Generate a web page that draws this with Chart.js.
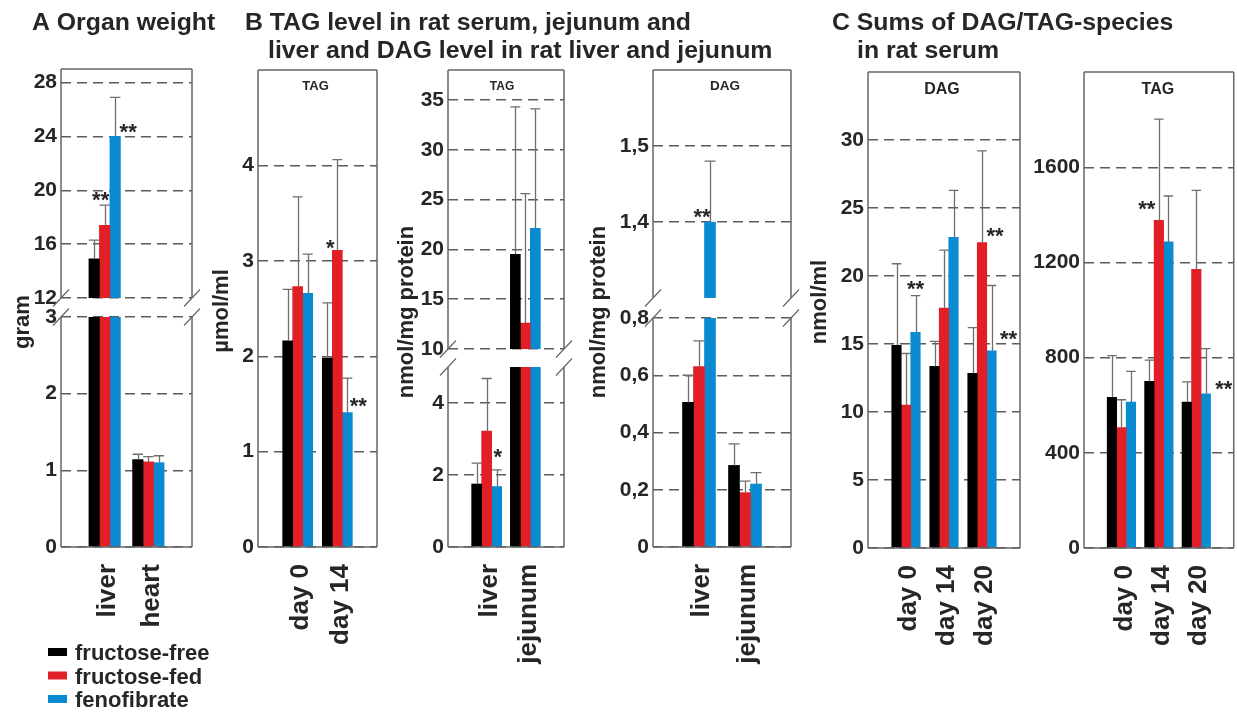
<!DOCTYPE html>
<html>
<head>
<meta charset="utf-8">
<script src="https://cdn.jsdelivr.net/npm/chart.js@4.4.1/dist/chart.umd.min.js"></script>
<style>
  html, body { margin: 0; padding: 0; background: #fff; }
  #fig { position: relative; width: 1237px; height: 712px; overflow: hidden; }
  #fig canvas { position: absolute; left: 0; top: 0; }
</style>
</head>
<body>
<div id="fig"></div>
<script>
/* ---------- data (rows = series: fructose-free, fructose-fed, fenofibrate) ---------- */
const seriesNames = ['fructose-free', 'fructose-fed', 'fenofibrate'];
const seriesColors = ['#000000', '#e21f26', '#0a8ad0'];

// A organ weight, gram
const organs = ['liver', 'heart'];
const organMean = [[14.9, 1.14], [17.4, 1.11], [24.0, 1.10]];
const organSD = [[1.4, 0.07], [1.5, 0.07], [2.9, 0.09]];
const organTicksUp = [12, 16, 20, 24, 28];
const organTicksLow = [0, 1, 2, 3];

// B serum TAG, µmol/ml
const serumDays = ['day 0', 'day 14'];
const serumTagMean = [[2.16, 1.98], [2.73, 3.11], [2.66, 1.41]];
const serumTagSD = [[0.54, 0.58], [0.94, 0.95], [0.41, 0.36]];
const serumTagTicks = [0, 1, 2, 3, 4];

// B tissue TAG, nmol/mg protein
const tissues = ['liver', 'jejunum'];
const tissueTagMean = [[1.75, 19.5], [3.22, 12.6], [1.68, 22.1]];
const tissueTagSD = [[0.58, 14.8], [1.46, 13.0], [0.46, 12.0]];
const tissueTagTicksUp = [10, 15, 20, 25, 30, 35];
const tissueTagTicksLow = [0, 2, 4];

// B tissue DAG, nmol/mg protein
const tissueDagMean = [[0.505, 0.285], [0.63, 0.19], [1.40, 0.22]];
const tissueDagSD = [[0.095, 0.075], [0.09, 0.04], [0.08, 0.04]];
const tissueDagTicksUp = [1.4, 1.5];
const tissueDagTicksLow = [0, 0.2, 0.4, 0.6, 0.8];

// C serum DAG / TAG sums, nmol/ml
const sumDays = ['day 0', 'day 14', 'day 20'];
const sumDagMean = [[14.9, 13.35, 12.85], [10.5, 17.65, 22.45], [15.85, 22.85, 14.5]];
const sumDagSD = [[6.0, 1.85, 3.35], [3.8, 4.25, 6.75], [2.7, 3.45, 4.8]];
const sumDagTicks = [0, 5, 10, 15, 20, 25, 30];
const sumTagMean = [[633, 700, 613], [506, 1377, 1171], [613, 1286, 648]];
const sumTagSD = [[175, 89, 85], [117, 425, 332], [129, 193, 190]];
const sumTagTicks = [0, 400, 800, 1200, 1600];

/* ---------- look ---------- */
const W = 1237, H = 712;
const FONT = "'Liberation Sans', Arial, Helvetica, sans-serif";
const INK = '#262626', GRID = '#5c5c5c', FRAME = '#666666', WHISKER = '#6e6e6e';
Chart.defaults.font.family = FONT;
Chart.defaults.color = INK;

const pad = a => [null, ...a, null];
const padLabels = a => ['', ...a, ''];

function makeDecor(cfg) {
  const d = cfg.decor || {};
  return {
    id: 'decor',
    afterDatasetsDraw(chart) {
      const { ctx, chartArea: a } = chart;
      const y = chart.scales.y;
      ctx.save();
      ctx.beginPath();
      ctx.rect(a.left, a.top, a.right - a.left, a.bottom - a.top);
      ctx.clip();
      ctx.strokeStyle = WHISKER;
      ctx.lineWidth = 1.3;
      chart.data.datasets.forEach((ds, i) => {
        chart.getDatasetMeta(i).data.forEach((bar, j) => {
          const v = ds.data[j];
          if (v == null) return;
          const e = y.getPixelForValue(v + ds.sd[j]);
          const x = Math.round(bar.x) + 0.5, half = bar.width / 2;
          ctx.beginPath();
          ctx.moveTo(x, bar.y); ctx.lineTo(x, e);
          ctx.moveTo(bar.x - half, e); ctx.lineTo(bar.x + half, e);
          ctx.stroke();
        });
      });
      ctx.restore();
    },
    afterDraw(chart) {
      const { ctx, chartArea: a } = chart;
      const y = chart.scales.y;
      ctx.save();
      // frame
      const sides = d.sides || ['top', 'left', 'right', 'bottom'];
      ctx.strokeStyle = FRAME;
      ctx.lineWidth = 1.5;
      ctx.beginPath();
      if (sides.includes('top')) { ctx.moveTo(a.left, a.top); ctx.lineTo(a.right, a.top); }
      if (sides.includes('bottom')) { ctx.moveTo(a.left, a.bottom); ctx.lineTo(a.right, a.bottom); }
      if (sides.includes('left')) { ctx.moveTo(a.left, a.top); ctx.lineTo(a.left, a.bottom); }
      if (sides.includes('right')) { ctx.moveTo(a.right, a.top); ctx.lineTo(a.right, a.bottom); }
      ctx.stroke();
      // axis break marks
      if (d.breakAt) {
        const by = d.breakAt === 'top' ? a.top : a.bottom;
        ctx.lineWidth = 1.2;
        ctx.beginPath();
        [a.left, a.right].forEach(bx => { ctx.moveTo(bx - 8, by + 8.5); ctx.lineTo(bx + 8, by - 8.5); });
        ctx.stroke();
      }
      ctx.fillStyle = INK;
      // small label inside the box
      if (d.label) {
        ctx.font = `bold ${d.labelSize}px ${FONT}`;
        ctx.textAlign = 'center';
        ctx.textBaseline = 'middle';
        ctx.fillText(d.label, (a.left + a.right) / 2 + (d.labelDx || 0), d.labelY);
      }
      // unit title
      if (d.yTitle) {
        ctx.save();
        ctx.translate(d.yTitle.x, d.yTitle.y);
        ctx.rotate(-Math.PI / 2);
        ctx.font = `bold 22px ${FONT}`;
        ctx.textAlign = 'center';
        ctx.textBaseline = 'middle';
        ctx.fillText(d.yTitle.text, 0, 0);
        ctx.restore();
      }
      // significance stars
      (d.stars || []).forEach(s => {
        const ds = chart.data.datasets[s.ds];
        const bar = chart.getDatasetMeta(s.ds).data[s.cat + 1];
        const v = ds.data[s.cat + 1] + (s.at === 'err' ? ds.sd[s.cat + 1] : 0);
        ctx.font = `bold 22px ${FONT}`;
        ctx.textAlign = 'center';
        ctx.textBaseline = 'alphabetic';
        ctx.fillText(s.text, bar.x + s.dx, y.getPixelForValue(v) + s.dy + 12.5);
      });
      // figure titles and legend
      if (d.extra) {
        ctx.font = `bold 24.8px ${FONT}`;
        ctx.textAlign = 'left';
        ctx.textBaseline = 'alphabetic';
        ctx.fillText('A Organ weight', 32, 30);
        ctx.fillText('B TAG level in rat serum, jejunum and', 245, 30);
        ctx.fillText('liver and DAG level in rat liver and jejunum', 268, 58);
        ctx.fillText('C Sums of DAG/TAG-species', 832, 30);
        ctx.fillText('in rat serum', 857, 58);
        ctx.font = `bold 22px ${FONT}`;
        seriesNames.forEach((name, i) => {
          const cy = 652 + i * 23.5;
          ctx.fillStyle = seriesColors[i];
          ctx.fillRect(48, cy - 4, 19, 8);
          ctx.fillStyle = INK;
          ctx.fillText(name, 75, cy + 8);
        });
      }
      ctx.restore();
    }
  };
}

function makeChart(cfg) {
  const canvas = document.createElement('canvas');
  canvas.width = W;
  canvas.height = H;
  document.getElementById('fig').appendChild(canvas);
  const showX = !!cfg.showX;
  const xH = showX ? 160 : 0, yW = 50;
  const [l, t, r, b] = cfg.area;
  return new Chart(canvas, {
    type: 'bar',
    data: {
      labels: padLabels(cfg.labels),
      datasets: seriesNames.map((name, i) => ({
        label: name,
        data: pad(cfg.mean[i]),
        sd: pad(cfg.sd[i]),
        backgroundColor: seriesColors[i],
        borderWidth: 0,
        barThickness: cfg.bar,
        clip: 0
      }))
    },
    options: {
      responsive: false,
      animation: false,
      events: [],
      layout: { padding: { left: l - yW, top: t, right: W - r, bottom: Math.max(H - b - xH, 0) } },
      scales: {
        x: {
          display: showX,
          offset: false,
          grid: { display: false },
          border: { display: false },
          ticks: {
            autoSkip: false, minRotation: 90, maxRotation: 90, padding: 9, labelOffset: 3,
            font: { size: 26, weight: 'bold' }, color: INK
          },
          afterBuildTicks: s => { s.ticks = s.ticks.filter(tk => s.getLabels()[tk.value] !== ''); },
          afterFit: s => { s.height = xH; }
        },
        y: {
          min: cfg.min,
          max: cfg.max,
          grid: { color: GRID, lineWidth: 1.4, drawTicks: false },
          border: { display: false, dash: [10, 6] },
          ticks: {
            padding: 4, font: { size: 21, weight: 'bold' }, color: INK,
            callback: v => String(v).replace('.', ',')
          },
          afterBuildTicks: s => { s.ticks = cfg.ticks.map(v => ({ value: v })); },
          afterFit: s => { s.width = yW; }
        }
      },
      plugins: { legend: { display: false }, tooltip: { enabled: false } }
    },
    plugins: [makeDecor(cfg)]
  });
}

const upper = ['top', 'left', 'right'];
const lower = ['left', 'right', 'bottom'];

// A organ weight (broken axis)
makeChart({
  area: [61, 69, 192, 298], min: 12, max: 29, ticks: organTicksUp,
  labels: organs, mean: organMean, sd: organSD, bar: 10.5,
  decor: {
    sides: upper, breakAt: 'bottom',
    stars: [
      { cat: 0, ds: 1, at: 'err', text: '**', dx: -4, dy: -11 },
      { cat: 0, ds: 2, at: 'bar', text: '**', dx: 13, dy: -10 }
    ]
  }
});
makeChart({
  area: [61, 317, 192, 547], min: 0, max: 3, ticks: organTicksLow, showX: true,
  labels: organs, mean: organMean, sd: organSD, bar: 10.5,
  decor: { sides: lower, breakAt: 'top', yTitle: { text: 'gram', x: 23, y: 322 }, extra: true }
});

// B serum TAG
makeChart({
  area: [258, 70, 377, 547], min: 0, max: 5, ticks: serumTagTicks, showX: true,
  labels: serumDays, mean: serumTagMean, sd: serumTagSD, bar: 10,
  decor: {
    label: 'TAG', labelSize: 13, labelY: 86, labelDx: -2,
    yTitle: { text: 'µmol/ml', x: 222, y: 311 },
    stars: [
      { cat: 1, ds: 1, at: 'bar', text: '*', dx: -7, dy: -8 },
      { cat: 1, ds: 2, at: 'bar', text: '**', dx: 11, dy: -12 }
    ]
  }
});

// B tissue TAG (broken axis)
makeChart({
  area: [448, 70, 564, 349], min: 10, max: 38, ticks: tissueTagTicksUp,
  labels: tissues, mean: tissueTagMean, sd: tissueTagSD, bar: 10,
  decor: { sides: upper, breakAt: 'bottom', label: 'TAG', labelSize: 12, labelY: 87, labelDx: -4 }
});
makeChart({
  area: [448, 367, 564, 547], min: 0, max: 5, ticks: tissueTagTicksLow, showX: true,
  labels: tissues, mean: tissueTagMean, sd: tissueTagSD, bar: 10,
  decor: {
    sides: lower, breakAt: 'top',
    yTitle: { text: 'nmol/mg protein', x: 407, y: 312 },
    stars: [{ cat: 0, ds: 2, at: 'err', text: '*', dx: 1, dy: -18 }]
  }
});

// B tissue DAG (broken axis)
makeChart({
  area: [653, 70, 791, 298], min: 1.3, max: 1.6, ticks: tissueDagTicksUp,
  labels: tissues, mean: tissueDagMean, sd: tissueDagSD, bar: 11,
  decor: {
    sides: upper, breakAt: 'bottom', label: 'DAG', labelSize: 13.5, labelY: 86, labelDx: 3,
    stars: [{ cat: 0, ds: 2, at: 'bar', text: '**', dx: -8, dy: -11 }]
  }
});
makeChart({
  area: [653, 318, 791, 547], min: 0, max: 0.8, ticks: tissueDagTicksLow, showX: true,
  labels: tissues, mean: tissueDagMean, sd: tissueDagSD, bar: 11,
  decor: { sides: lower, breakAt: 'top', yTitle: { text: 'nmol/mg protein', x: 599, y: 312 } }
});

// C serum DAG
makeChart({
  area: [868, 72, 1020, 548], min: 0, max: 35, ticks: sumDagTicks, showX: true,
  labels: sumDays, mean: sumDagMean, sd: sumDagSD, bar: 9.5,
  decor: {
    label: 'DAG', labelSize: 16, labelY: 90, labelDx: -2,
    yTitle: { text: 'nmol/ml', x: 820, y: 302 },
    stars: [
      { cat: 0, ds: 2, at: 'err', text: '**', dx: 0, dy: -12 },
      { cat: 2, ds: 1, at: 'bar', text: '**', dx: 13, dy: -12 },
      { cat: 2, ds: 2, at: 'bar', text: '**', dx: 17, dy: -17 }
    ]
  }
});

// C serum TAG
makeChart({
  area: [1084, 72, 1235, 548], min: 0, max: 2000, ticks: sumTagTicks, showX: true,
  labels: sumDays, mean: sumTagMean, sd: sumTagSD, bar: 9.5,
  decor: {
    label: 'TAG', labelSize: 16, labelY: 90, labelDx: -1,
    stars: [
      { cat: 1, ds: 1, at: 'bar', text: '**', dx: -12, dy: -17 },
      { cat: 2, ds: 2, at: 'bar', text: '**', dx: 18, dy: -10 }
    ]
  }
});
</script>
</body>
</html>
